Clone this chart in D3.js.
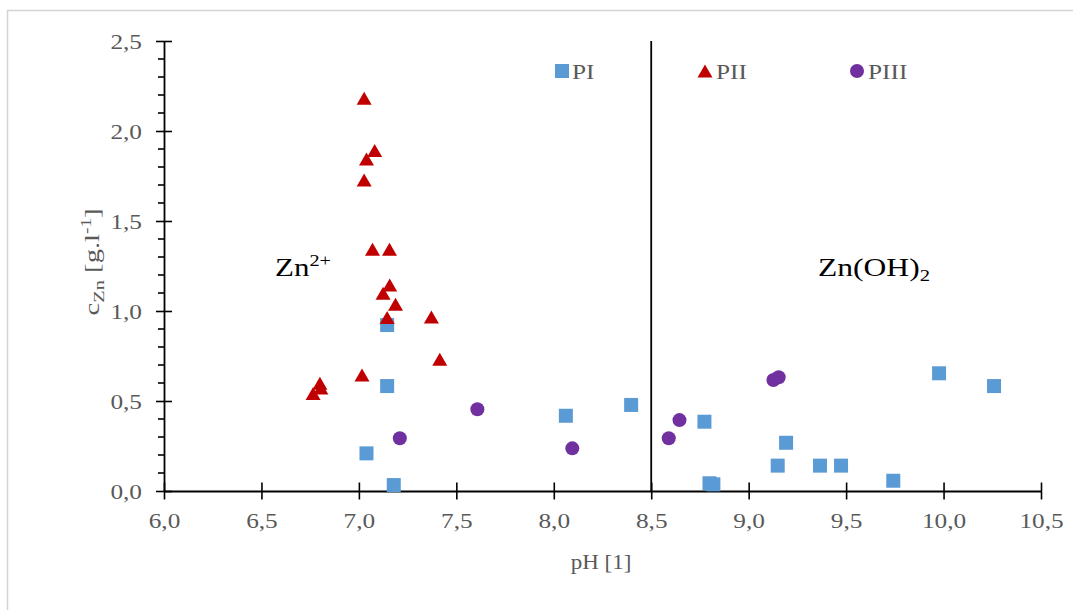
<!DOCTYPE html>
<html>
<head>
<meta charset="utf-8">
<script src="https://cdn.jsdelivr.net/npm/d3@7"></script>
<style>
  html, body { margin: 0; padding: 0; background: #fff; }
  svg { display: block; }
  text { font-family: "Liberation Serif", "Times New Roman", serif; }
</style>
</head>
<body>
<svg id="chart" width="1073" height="610"></svg>
<script>
// Measured series: pH vs. zinc concentration [g/l]
const piPH   = [7.145, 7.145, 7.039, 7.179, 8.062, 8.397, 8.773, 8.799, 8.819, 9.192, 9.149, 9.366, 9.474, 9.742, 9.977, 10.259];
const piZn   = [0.922, 0.583, 0.209, 0.033, 0.418, 0.478, 0.385, 0.043, 0.037, 0.268, 0.141, 0.141, 0.141, 0.057, 0.654, 0.583];

const piiPH  = [7.027, 7.081, 7.039, 7.027, 7.070, 7.157, 7.158, 7.124, 7.188, 7.145, 7.372, 7.415, 7.016, 6.800, 6.805, 6.765];
const piiZn  = [2.182, 1.891, 1.844, 1.728, 1.343, 1.343, 1.144, 1.098, 1.037, 0.964, 0.967, 0.732, 0.644, 0.598, 0.572, 0.542];

const piiiPH = [7.210, 7.608, 8.095, 8.590, 8.645, 9.127, 9.154];
const piiiZn = [0.293, 0.454, 0.237, 0.293, 0.394, 0.617, 0.632];

const seriesNames = ["PI", "PII", "PIII"];
const xTicks = [6.0, 6.5, 7.0, 7.5, 8.0, 8.5, 9.0, 9.5, 10.0, 10.5];
const yTicks = [0.0, 0.5, 1.0, 1.5, 2.0, 2.5];
const yMinorTicks = d3.range(0, 2.501, 0.1);
const boundaryPH = 8.5;

const fmt = v => v.toFixed(1).replace(".", ",");

const svg = d3.select("#chart");
const TICK_COLOR = "#595959";

// outer chart frame
svg.append("rect")
  .attr("x", 7.5).attr("y", 10.5)
  .attr("width", 1100).attr("height", 650)
  .attr("fill", "#fff").attr("stroke", "#d4d4d4").attr("stroke-width", 1.5);

const x = d3.scaleLinear().domain([6, 10.5]).range([164, 1041]);
const y = d3.scaleLinear().domain([0, 2.5]).range([491, 41]);

// widen text horizontally by factor k
function widen(sel, k) {
  sel.each(function () {
    const w = this.getComputedTextLength();
    d3.select(this).attr("textLength", w * k).attr("lengthAdjust", "spacingAndGlyphs");
  });
}

// y axis: minor ticks (outside only)
const yAxisG = svg.append("g");
yAxisG.selectAll("line.minor")
  .data(yMinorTicks.filter(v => Math.abs(v * 2 - Math.round(v * 2)) > 1e-6))
  .join("line")
  .attr("x1", x(6) - 6).attr("x2", x(6))
  .attr("y1", d => y(d)).attr("y2", d => y(d))
  .attr("stroke", "#000").attr("stroke-width", 1.6);

const yAxis = d3.axisLeft(y).tickValues(yTicks).tickFormat(fmt).tickSizeInner(8).tickSizeOuter(0);
const gy = svg.append("g").attr("transform", `translate(${x(6)},0)`).call(yAxis);
gy.select(".domain").attr("stroke", "#000").attr("stroke-width", 1.8);
gy.selectAll(".tick line").attr("x1", 8).attr("x2", -8).attr("stroke", "#000").attr("stroke-width", 1.6);
gy.selectAll(".tick text")
  .attr("x", -22).attr("fill", TICK_COLOR)
  .attr("font-family", "Liberation Serif").attr("font-size", 22);

const xAxis = d3.axisBottom(x).tickValues(xTicks).tickFormat(fmt).tickSizeInner(8.5).tickSizeOuter(0);
const gx = svg.append("g").attr("transform", `translate(0,${y(0)})`).call(xAxis);
gx.select(".domain").attr("stroke", "#000").attr("stroke-width", 1.8);
gx.selectAll(".tick line").attr("y1", -8.5).attr("y2", 8.5).attr("stroke", "#000").attr("stroke-width", 1.6);
gx.selectAll(".tick text")
  .attr("y", 21).attr("fill", TICK_COLOR)
  .attr("font-family", "Liberation Serif").attr("font-size", 22);

widen(gy.selectAll(".tick text"), 1.15);
widen(gx.selectAll(".tick text"), 1.15);

// phase boundary at pH 8.5
svg.append("line")
  .attr("x1", x(boundaryPH)).attr("x2", x(boundaryPH))
  .attr("y1", y(2.5)).attr("y2", y(0))
  .attr("stroke", "#000").attr("stroke-width", 1.8);

// axis titles
const xTitle = svg.append("text")
  .attr("x", 601).attr("y", 569)
  .attr("text-anchor", "middle").attr("font-size", 20).attr("fill", TICK_COLOR)
  .text("pH [1]");
widen(xTitle, 1.15);

const yTitle = svg.append("text")
  .attr("transform", "translate(99,262) rotate(-90)")
  .attr("text-anchor", "middle").attr("font-size", 21).attr("fill", TICK_COLOR);
yTitle.append("tspan").text("c");
yTitle.append("tspan").attr("font-size", 15).attr("dy", 5).text("Zn");
yTitle.append("tspan").attr("dy", -5).text(" [g.l");
yTitle.append("tspan").attr("font-size", 14).attr("dy", -8).text("-1");
yTitle.append("tspan").attr("dy", 8).text("]");
yTitle.attr("textLength", 107).attr("lengthAdjust", "spacingAndGlyphs");

// region labels
const zn = svg.append("text").attr("x", 275).attr("y", 276).attr("font-size", 26).attr("fill", "#000");
zn.append("tspan").text("Zn");
zn.append("tspan").attr("font-size", 17).attr("dy", -10).text("2+");
zn.attr("textLength", 56).attr("lengthAdjust", "spacingAndGlyphs");

const znoh = svg.append("text").attr("x", 818).attr("y", 276).attr("font-size", 26).attr("fill", "#000");
znoh.append("tspan").text("Zn(OH)");
znoh.append("tspan").attr("font-size", 17).attr("dy", 5).text("2");
znoh.attr("textLength", 112).attr("lengthAdjust", "spacingAndGlyphs");

// marker shapes
const COLORS = { PI: "#5B9BD5", PII: "#C00000", PIII: "#7030A0" };
const triPath = "M0,-6.5L7.5,6.5L-7.5,6.5Z";

function drawSquares(g, xs, ys) {
  g.selectAll("rect").data(xs.map((v, i) => [v, ys[i]])).join("rect")
    .attr("x", d => x(d[0]) - 7).attr("y", d => y(d[1]) - 7)
    .attr("width", 14).attr("height", 14)
    .attr("fill", COLORS.PI);
}
function drawTriangles(g, xs, ys) {
  g.selectAll("path").data(xs.map((v, i) => [v, ys[i]])).join("path")
    .attr("d", triPath)
    .attr("transform", d => `translate(${x(d[0])},${y(d[1])})`)
    .attr("fill", COLORS.PII);
}
function drawCircles(g, xs, ys) {
  g.selectAll("circle").data(xs.map((v, i) => [v, ys[i]])).join("circle")
    .attr("cx", d => x(d[0])).attr("cy", d => y(d[1])).attr("r", 7)
    .attr("fill", COLORS.PIII);
}

drawSquares(svg.append("g"), piPH, piZn);
drawTriangles(svg.append("g"), piiPH, piiZn);
drawCircles(svg.append("g"), piiiPH, piiiZn);

// legend
const legendItems = [
  { name: seriesNames[0], cx: 562, tx: 572 },
  { name: seriesNames[1], cx: 705, tx: 716 },
  { name: seriesNames[2], cx: 857, tx: 868 }
];
const lg = svg.append("g");
legendItems.forEach(it => {
  const cy = 71;
  if (it.name === "PI") {
    lg.append("rect").attr("x", it.cx - 7).attr("y", cy - 7).attr("width", 14).attr("height", 14).attr("fill", COLORS.PI);
  } else if (it.name === "PII") {
    lg.append("path").attr("d", triPath).attr("transform", `translate(${it.cx},${cy})`).attr("fill", COLORS.PII);
  } else {
    lg.append("circle").attr("cx", it.cx).attr("cy", cy).attr("r", 7).attr("fill", COLORS.PIII);
  }
  const t = lg.append("text").attr("x", it.tx).attr("y", 79)
    .attr("font-size", 22).attr("fill", TICK_COLOR).text(it.name);
  widen(t, 1.15);
});
</script>
</body>
</html>
